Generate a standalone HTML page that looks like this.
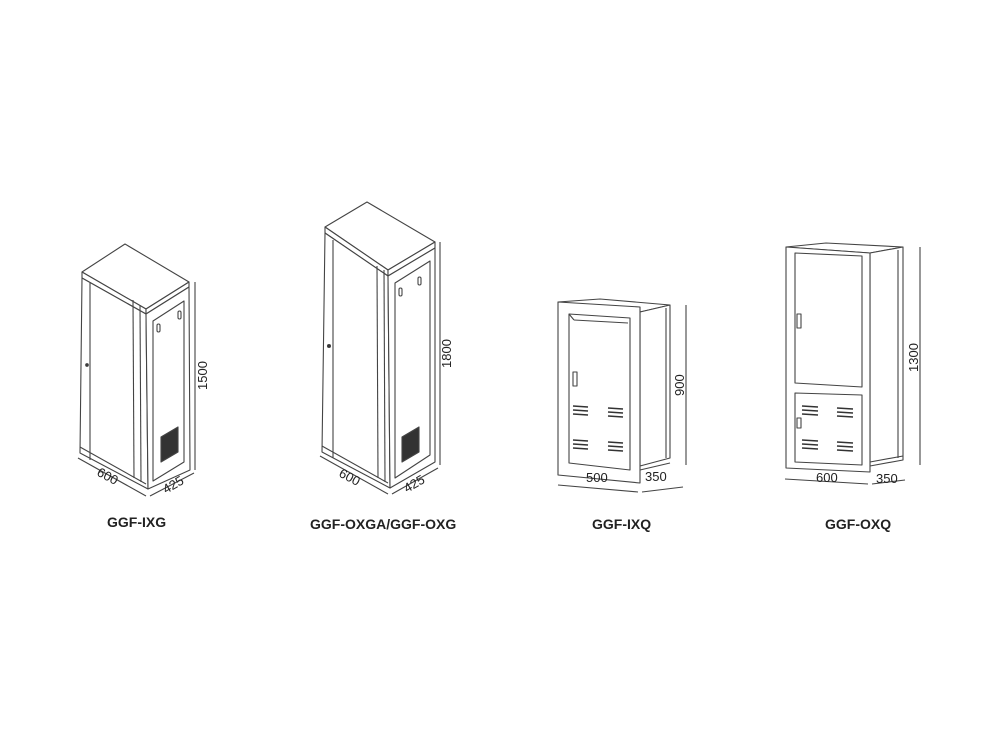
<!DOCTYPE html>
<html><head><meta charset="utf-8"><style>
html,body{margin:0;padding:0;background:#fff;}
svg{display:block}
text{font-family:"Liberation Sans",Arial,sans-serif;fill:#222}
.t{font-weight:bold;font-size:14px}
.d{font-size:13px}
</style></head><body>
<svg width="1000" height="739" viewBox="0 0 1000 739" xmlns="http://www.w3.org/2000/svg">
<g fill="#fff" stroke="#444" stroke-width="1.1" stroke-linejoin="round">
<!-- Cabinet 1 -->
<polygon points="82,272 125,244 189,282 146,309"/>
<polygon points="82,272 146,309 146,314 82,278"/>
<polygon points="146,309 189,282 189,287 146,314"/>
<polygon points="82,278 146,314 148,489 80,453"/>
<polygon points="146,314 189,287 190,470 148,489"/>
<line x1="90" y1="283" x2="90" y2="460"/>
<line x1="133" y1="300" x2="134" y2="478"/>
<line x1="140" y1="305" x2="141" y2="482"/>
<line x1="80" y1="447" x2="146" y2="484"/>
<polygon points="153,321 184,301 184,462 153,481"/>
<rect x="157" y="324" width="3" height="8" rx="1.5"/>
<rect x="178" y="311" width="3" height="8" rx="1.5"/>
<circle cx="87" cy="365" r="1.3" fill="#333"/>
<polygon points="161,437 178,427 178,452 161,462" fill="#333"/>
<line x1="195" y1="282" x2="195" y2="470"/>
<line x1="78" y1="458" x2="146" y2="496"/>
<line x1="150" y1="496" x2="194" y2="473"/>
<!-- Cabinet 2 -->
<polygon points="325,227 367,202 435,242 388,270"/>
<polygon points="325,227 388,270 388,276 325,233"/>
<polygon points="388,270 435,242 435,248 388,276"/>
<polygon points="325,233 388,276 390,488 322,452"/>
<polygon points="388,276 435,248 435,462 390,488"/>
<line x1="333" y1="240" x2="333" y2="458"/>
<line x1="377" y1="266" x2="378" y2="478"/>
<line x1="384" y1="270" x2="385" y2="482"/>
<line x1="322" y1="446" x2="388" y2="483"/>
<polygon points="395,283 430,261 430,455 395,478"/>
<rect x="399" y="288" width="3" height="8" rx="1.5"/>
<rect x="418" y="277" width="3" height="8" rx="1.5"/>
<circle cx="329" cy="346" r="1.5" fill="#333"/>
<polygon points="402,437 419,427 419,452 402,462" fill="#333"/>
<line x1="440" y1="242" x2="440" y2="465"/>
<line x1="320" y1="456" x2="388" y2="494"/>
<line x1="392" y1="494" x2="438" y2="468"/>
<!-- Cabinet 3 -->
<polygon points="558,302 600,299 670,305 640,312"/>
<polygon points="640,312 670,305 670,458 640,466"/>
<line x1="666" y1="308" x2="666" y2="458"/>
<polygon points="558,302 640,307 640,483 558,475"/>
<polygon points="569,314 630,318 630,470 569,463"/>
<line x1="569" y1="314" x2="574" y2="320"/>
<line x1="574" y1="320" x2="628" y2="323"/>
<rect x="573" y="372" width="4" height="14"/>
<line x1="640" y1="470" x2="670" y2="463"/>
<line x1="686" y1="305" x2="686" y2="465"/>
<line x1="558" y1="485" x2="638" y2="492"/>
<line x1="642" y1="492" x2="683" y2="487"/>
<!-- Cabinet 4 -->
<polygon points="786,247 826,243 903,247 870,253"/>
<polygon points="870,253 903,247 903,460 870,466"/>
<line x1="898" y1="250" x2="898" y2="458"/>
<polygon points="786,247 870,253 870,472 786,468"/>
<polygon points="795,253 862,256 862,387 795,383"/>
<polygon points="795,393 862,395 862,465 795,462"/>
<rect x="797" y="314" width="4" height="14"/>
<rect x="797" y="418" width="4" height="10"/>
<line x1="870" y1="462" x2="903" y2="456"/>
<line x1="785" y1="479" x2="868" y2="484"/>
<line x1="872" y1="484" x2="905" y2="480"/>
<line x1="920" y1="247" x2="920" y2="465"/>
</g>
<g stroke="#333" stroke-width="1.6">
<line x1="573" y1="406" x2="588" y2="407"/><line x1="573" y1="410" x2="588" y2="411"/><line x1="573" y1="414" x2="588" y2="415"/>
<line x1="608" y1="408" x2="623" y2="409"/><line x1="608" y1="412" x2="623" y2="413"/><line x1="608" y1="416" x2="623" y2="417"/>
<line x1="573" y1="440" x2="588" y2="441"/><line x1="573" y1="444" x2="588" y2="445"/><line x1="573" y1="448" x2="588" y2="449"/>
<line x1="608" y1="442" x2="623" y2="443"/><line x1="608" y1="446" x2="623" y2="447"/><line x1="608" y1="450" x2="623" y2="451"/>
<line x1="802" y1="406" x2="818" y2="407"/><line x1="802" y1="410" x2="818" y2="411"/><line x1="802" y1="414" x2="818" y2="415"/>
<line x1="837" y1="408" x2="853" y2="409"/><line x1="837" y1="412" x2="853" y2="413"/><line x1="837" y1="416" x2="853" y2="417"/>
<line x1="802" y1="440" x2="818" y2="441"/><line x1="802" y1="444" x2="818" y2="445"/><line x1="802" y1="448" x2="818" y2="449"/>
<line x1="837" y1="442" x2="853" y2="443"/><line x1="837" y1="446" x2="853" y2="447"/><line x1="837" y1="450" x2="853" y2="451"/>
</g>
<text class="d" transform="translate(207,390) rotate(-90)">1500</text>
<text class="d" transform="translate(96,475) rotate(28)">600</text>
<text class="d" transform="translate(166,494) rotate(-30)">425</text>
<text class="d" transform="translate(451,368) rotate(-90)">1800</text>
<text class="d" transform="translate(338,476) rotate(28)">600</text>
<text class="d" transform="translate(407,493) rotate(-30)">425</text>
<text class="d" transform="translate(684,396) rotate(-90)">900</text>
<text class="d" x="586" y="482">500</text>
<text class="d" x="645" y="481">350</text>
<text class="d" transform="translate(918,372) rotate(-90)">1300</text>
<text class="d" x="816" y="482">600</text>
<text class="d" x="876" y="483">350</text>
<text class="t" x="107" y="527">GGF-IXG</text>
<text class="t" x="310" y="529">GGF-OXGA/GGF-OXG</text>
<text class="t" x="592" y="529">GGF-IXQ</text>
<text class="t" x="825" y="529">GGF-OXQ</text>
</svg>
</body></html>
